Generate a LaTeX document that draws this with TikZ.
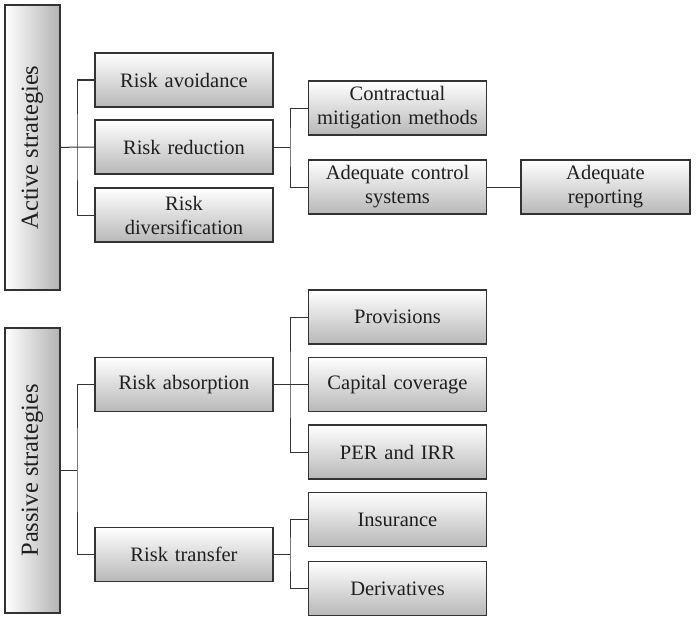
\documentclass[tikz,border=0pt]{standalone}
\usepackage{fontspec}
\setmainfont{Liberation Serif}
\begin{document}
\begin{tikzpicture}[x=1pt,y=-1pt,
  box/.style={draw=black!80, line width=1.1pt, top color=white, bottom color=black!28,
    minimum width=178pt, minimum height=54pt, text width=174pt, align=center,
    inner sep=0pt, font=\fontsize{20.5}{24}\selectfont, text=black!88},
  widebox/.style={box, minimum width=169pt, text width=165pt},
  sidebox/.style={draw=black!80, line width=1.1pt, left color=white, right color=black!30,
    minimum width=285pt, minimum height=55pt, inner sep=0pt, rotate=90,
    font=\fontsize{24.5}{28}\selectfont, text=black!88},
  link/.style={draw=black!80, line width=1pt}]
\useasboundingbox (0,0) rectangle (696,618);

% active strategies
\node[sidebox] (act) at (32.5,147.5) {Active strategies};
\node[box] (avo) at (184,80) {Risk avoidance};
\node[box] (red) at (184,147) {Risk reduction};
\node[box] (div) at (184,215) {Risk\\diversification};
\node[box] (con) at (397.5,108) {Contractual\\mitigation methods};
\node[box] (ctl) at (397.5,187) {Adequate control\\systems};
\node[widebox] (rep) at (605.5,187) {Adequate\\reporting};

\draw[link] (act.south) -- (77,147) -- (red.west);
\draw[link] (avo.west) -| (77,147) |- (div.west);
\draw[link] (red.east) -- (290,147);
\draw[link] (con.west) -| (290,147) |- (ctl.west);
\draw[link] (ctl.east) -- (rep.west);

% passive strategies
\node[sidebox] (pas) at (32.5,470.5) {Passive strategies};
\node[box] (abs) at (184,384.5) {Risk absorption};
\node[box] (tra) at (184,554.5) {Risk transfer};
\node[box] (pro) at (397.5,317) {Provisions};
\node[box] (cap) at (397.5,384.5) {Capital coverage};
\node[box] (per) at (397.5,452) {PER and IRR};
\node[box] (ins) at (397.5,519.5) {Insurance};
\node[box] (der) at (397.5,588.5) {Derivatives};

\draw[link] (pas.south) -- (77,470.5);
\draw[link] (abs.west) -| (77,470.5) |- (tra.west);
\draw[link] (abs.east) -- (cap.west);
\draw[link] (pro.west) -| (290,384.5) |- (per.west);
\draw[link] (tra.east) -- (290,554.5);
\draw[link] (ins.west) -| (290,554.5) |- (der.west);
\end{tikzpicture}
\end{document}
